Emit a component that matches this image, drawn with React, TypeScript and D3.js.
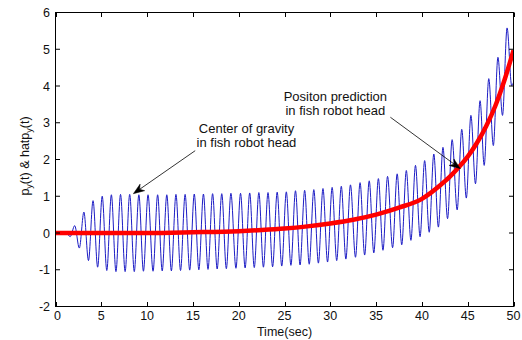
import React from "react";
import * as d3 from "d3";

// Red curve: position prediction (time, value)
const redT = [0, 5, 10, 15, 20, 22.5, 25, 27.5, 30, 32.5, 35, 37.5, 40, 41, 42, 43, 44, 45, 46, 47, 48, 49, 50];
const redV = [0, 0, 0, 0.02, 0.05, 0.08, 0.12, 0.18, 0.26, 0.36, 0.5, 0.69, 0.93, 1.1, 1.3, 1.52, 1.78, 2.08, 2.45, 2.9, 3.45, 4.15, 4.97];

// Blue curve: center of gravity, turning points (time, value)
const blueT = [
  0, 1.2, 1.6, 2.1, 2.6, 3.1, 3.6, 4.1, 4.6, 5.1, 5.6, 6.1, 6.6, 7.1, 7.6, 8.1, 8.6, 9.1, 9.6, 10.1,
  10.65, 11.15, 11.65, 12.15, 12.65, 13.15, 13.65, 14.15, 14.65, 15.15, 15.65, 16.15, 16.65, 17.15, 17.65,
  18.15, 18.65, 19.15, 19.7, 20.2, 20.7, 21.2, 21.7, 22.2, 22.7, 23.2, 23.7, 24.2, 24.7, 25.2, 25.7, 26.2,
  26.7, 27.2, 27.7, 28.2, 28.7, 29.2, 29.7, 30.2, 30.7, 31.2, 31.7, 32.2, 32.75, 33.25, 33.75, 34.25, 34.75,
  35.25, 35.75, 36.25, 36.8, 37.3, 37.8, 38.3, 38.8, 39.3, 39.8, 40.3, 40.8, 41.3, 41.8, 42.3, 42.8, 43.3,
  43.85, 44.35, 44.85, 45.35, 45.85, 46.35, 46.8, 47.3, 47.8, 48.3, 48.8, 49.3, 49.8, 50,
];
const blueV = [
  0, 0, -0.1, 0.2, -0.41, 0.57, -0.75, 0.88, -0.93, 1.0, -1.02, 1.04, -1.05, 1.05, -1.05, 1.05, -1.05, 1.04, -1.04, 1.04,
  -1.04, 1.04, -1.03, 1.04, -1.03, 1.05, -1.02, 1.05, -1.01, 1.06, -1.0, 1.06, -0.99, 1.07, -0.98,
  1.07, -0.97, 1.08, -0.96, 1.08, -0.95, 1.09, -0.94, 1.1, -0.93, 1.1, -0.92, 1.11, -0.9, 1.12, -0.88, 1.15,
  -0.87, 1.16, -0.85, 1.18, -0.82, 1.21, -0.79, 1.24, -0.75, 1.27, -0.71, 1.31, -0.66, 1.37, -0.6, 1.42, -0.54,
  1.48, -0.47, 1.54, -0.4, 1.61, -0.32, 1.7, -0.2, 1.84, -0.1, 1.97, 0.02, 2.15, 0.16, 2.33, 0.39, 2.54,
  0.63, 2.82, 0.95, 3.2, 1.34, 3.6, 1.84, 4.2, 2.38, 4.78, 3.2, 5.58, 4.01, 4.1,
];

const xTicks = [0, 5, 10, 15, 20, 25, 30, 35, 40, 45, 50];
const yTicks = [-2, -1, 0, 1, 2, 3, 4, 5, 6];

const xLabel = "Time(sec)";
const note1 = ["Center of gravity", "in fish robot head"];
const note2 = ["Positon prediction", "in fish robot head"];

const W = 522;
const H = 340;
const FONT = "Arial, 'Liberation Sans', Helvetica, sans-serif";

function Arrow({ x1, y1, x2, y2 }: { x1: number; y1: number; x2: number; y2: number }) {
  const dx = x2 - x1;
  const dy = y2 - y1;
  const len = Math.hypot(dx, dy);
  const ux = dx / len;
  const uy = dy / len;
  const px = -uy;
  const py = ux;
  const hl = 11;
  const hw = 4;
  const bx = x2 - ux * hl;
  const by = y2 - uy * hl;
  const nx = x2 - ux * hl * 0.7;
  const ny = y2 - uy * hl * 0.7;
  const head = `M${x2},${y2}L${bx + px * hw},${by + py * hw}L${nx},${ny}L${bx - px * hw},${by - py * hw}Z`;
  return (
    <g>
      <line x1={x1} y1={y1} x2={nx} y2={ny} stroke="#000" strokeWidth={0.8} />
      <path d={head} fill="#000" stroke="#000" strokeWidth={0.5} />
    </g>
  );
}

export default function App() {
  const x = d3.scaleLinear().domain([0, 50]).range([55.5, 513.5]);
  const y = d3.scaleLinear().domain([-2, 6]).range([306.5, 12.5]);

  const blueData = blueT.map((t, i) => [t, blueV[i]] as [number, number]);
  const redData = redT.map((t, i) => [t, redV[i]] as [number, number]);

  const line = d3
    .line<[number, number]>()
    .x((d) => x(d[0]))
    .y((d) => y(d[1]))
    .curve(d3.curveMonotoneX);

  const x0 = x(0), x1 = x(50), yT = y(6), yB = y(-2);
  const tl = 4.5;

  return (
    <svg
      width={W}
      height={H}
      style={{ position: "absolute", left: 0, top: 0, background: "#fff" }}
      fontFamily={FONT}
    >
      <rect x={0} y={0} width={W} height={H} fill="#fff" />
      <defs>
        <clipPath id="plotclip">
          <rect x={x0 - 4} y={yT} width={x1 - x0 + 4} height={yB - yT} />
        </clipPath>
      </defs>
      <g clipPath="url(#plotclip)">
        <path d={line(blueData) || ""} fill="none" stroke="#1c1cc4" strokeWidth={1} />
        <path d={line(redData) || ""} fill="none" stroke="#ff0000" strokeWidth={4.5} />
      </g>

      {/* frame */}
      <rect x={x0} y={yT} width={x1 - x0} height={yB - yT} fill="none" stroke="#000" strokeWidth={1} />
      {xTicks.map((t) => (
        <g key={"xt" + t}>
          <line x1={Math.round(x(t)) + 0.5} x2={Math.round(x(t)) + 0.5} y1={yB} y2={yB - tl} stroke="#000" />
          <line x1={Math.round(x(t)) + 0.5} x2={Math.round(x(t)) + 0.5} y1={yT} y2={yT + tl} stroke="#000" />
          <text x={x(t) + (t === 0 ? 2 : 0)} y={320} textAnchor="middle" fontSize={12.5} fill="#111">
            {t}
          </text>
        </g>
      ))}
      {yTicks.map((v) => (
        <g key={"yt" + v}>
          <line x1={x0} x2={x0 + tl} y1={y(v)} y2={y(v)} stroke="#000" />
          <line x1={x1} x2={x1 - tl} y1={y(v)} y2={y(v)} stroke="#000" />
          <text x={50} y={y(v) + 4.5} textAnchor="end" fontSize={12.5} fill="#111">
            {v}
          </text>
        </g>
      ))}

      <text x={(x0 + x1) / 2} y={336} textAnchor="middle" fontSize={12.5} fill="#111">
        {xLabel}
      </text>

      <text transform={`translate(29,156) rotate(-90)`} textAnchor="middle" fontSize={12.5} fill="#111">
        <tspan>p</tspan>
        <tspan fontSize={9} dy={3}>y</tspan>
        <tspan dy={-3}>(t) &amp; hatp</tspan>
        <tspan fontSize={9} dy={3}>y</tspan>
        <tspan dy={-3}>(t)</tspan>
      </text>

      {/* annotations */}
      <text x={x(20.85)} y={y(2.71)} textAnchor="middle" fontSize={13} fill="#111">{note1[0]}</text>
      <text x={x(20.85)} y={y(2.33)} textAnchor="middle" fontSize={13} fill="#111">{note1[1]}</text>
      <Arrow x1={x(15.25)} y1={y(2.24)} x2={x(8.5)} y2={y(1.07)} />

      <text x={x(30.55)} y={y(3.6)} textAnchor="middle" fontSize={13} fill="#111">{note2[0]}</text>
      <text x={x(30.55)} y={y(3.21)} textAnchor="middle" fontSize={13} fill="#111">{note2[1]}</text>
      <Arrow x1={x(36.56)} y1={y(3.15)} x2={x(44.2)} y2={y(1.75)} />
    </svg>
  );
}
